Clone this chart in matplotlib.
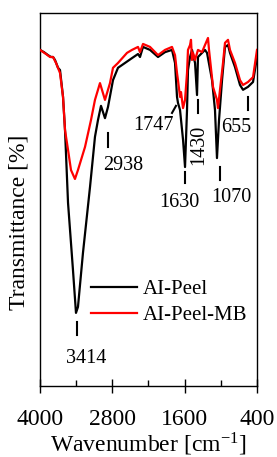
import matplotlib
matplotlib.use("Agg")
import matplotlib.pyplot as plt

plt.rcParams['font.family'] = ['Liberation Serif', 'DejaVu Serif']
plt.rcParams['mathtext.fontset'] = 'stix'

# AI-Peel (black)
wn_black = [4000, 3934, 3867, 3818, 3784, 3751, 3701, 3668, 3618, 3585, 3535, 3453, 3403,
            3370, 3287, 3170, 3088, 3038, 2988, 2922, 2872, 2789, 2706, 2590, 2474, 2374,
            2341, 2291, 2175, 2042, 1926, 1810, 1760, 1727, 1711, 1677, 1627, 1594, 1561,
            1545, 1511, 1478, 1428, 1395, 1379, 1312, 1263, 1229, 1146, 1097, 1064, 1030,
            980, 931, 881, 848, 765, 682, 632, 549, 466, 400]
t_black = [90.1, 89.5, 88.7, 88.2, 88.2, 87.4, 85.3, 84.7, 77.5, 68.6, 49.1, 31.1, 19.6,
           21.2, 35.7, 53.4, 66.8, 71.3, 75.1, 71.8, 74.8, 82.0, 85.3, 86.6, 87.9, 89.0,
           88.2, 90.9, 90.1, 88.2, 89.5, 90.1, 86.6, 77.5, 75.9, 74.0, 66.0, 58.7, 74.0,
           84.7, 88.2, 90.1, 86.6, 78.0, 88.2, 89.3, 90.1, 89.3, 82.0, 74.0, 61.1, 71.3,
           82.0, 90.9, 91.4, 89.3, 85.5, 80.7, 79.4, 80.2, 81.5, 88.2]

# AI-Peel-MB (red)
wn_red = [4000, 3900, 3834, 3784, 3734, 3668, 3618, 3585, 3535, 3486, 3420, 3370, 3253,
          3154, 3088, 3005, 2922, 2839, 2789, 2706, 2557, 2474, 2374, 2341, 2291, 2175,
          2042, 1926, 1810, 1760, 1727, 1711, 1677, 1661, 1627, 1594, 1561, 1545, 1511,
          1495, 1478, 1461, 1428, 1379, 1312, 1263, 1213, 1196, 1130, 1064, 1047, 1014,
          964, 931, 881, 848, 765, 682, 632, 549, 466, 400]
t_red = [90.1, 89.0, 88.2, 88.2, 86.6, 83.9, 77.5, 68.6, 63.3, 57.9, 55.5, 57.9, 64.1,
         71.3, 76.7, 81.2, 76.7, 81.2, 85.3, 86.6, 89.3, 90.1, 90.9, 89.5, 91.7, 90.9,
         88.7, 90.1, 90.9, 88.7, 83.9, 82.0, 77.5, 78.8, 74.5, 76.7, 83.9, 90.1, 91.4,
         92.8, 87.4, 89.3, 87.4, 90.1, 89.5, 91.4, 93.3, 90.1, 80.2, 76.7, 74.5, 79.4,
         86.6, 92.0, 92.8, 90.1, 86.6, 82.0, 80.7, 81.5, 82.8, 90.1]

series_names = ["AI-Peel", "AI-Peel-MB"]
series_colors = ["#000000", "#ff0000"]

# peak annotations
peak_labels = ["3414", "2938", "1747", "1630", "1430", "1070", "655"]
peak_text_x = [3237, 2623, 2125, 1694, 1362, 831, 748]
peak_text_y = [7.5, 59.2, 69.7, 49.3, 64.6, 50.4, 69.4]
peak_rot = [0, 0, 0, 0, 90, 0, 0]
tick_x0 = [3386, 2872, 1810, 1594, 1379, 1014, 549]
tick_x1 = [3386, 2872, 1744, 1594, 1379, 1014, 549]
tick_y0 = [13.7, 64.1, 73.2, 54.4, 73.2, 55.2, 74.0]
tick_y1 = [17.2, 67.8, 75.1, 57.4, 76.7, 58.7, 77.5]

xticks_major = [4000, 2800, 1600, 400]
xticks_minor = [3400, 2200, 1000]

fig = plt.figure(figsize=(2.77, 4.57), dpi=100)
ax = fig.add_axes([0.1444, 0.1554, 0.7834, 0.8162])

ax.plot(wn_black, t_black, color=series_colors[0], lw=1.6, label=series_names[0], zorder=2)
ax.plot(wn_red, t_red, color=series_colors[1], lw=1.6, label=series_names[1], zorder=3)

for lab, tx, ty, rot, x0, x1, y0, y1 in zip(peak_labels, peak_text_x, peak_text_y, peak_rot,
                                            tick_x0, tick_x1, tick_y0, tick_y1):
    ax.plot([x0, x1], [y0, y1], color='black', lw=1.5, zorder=4)
    ax.text(tx, ty, lab, ha='center', va='center', rotation=rot, fontsize=14.5)

ax.set_xlim(4000, 400)
ax.set_ylim(0, 100)
ax.set_xticks(xticks_major)
ax.set_xticks(xticks_minor, minor=True)
ax.set_yticks([])
ax.tick_params(axis='x', which='major', direction='inout', length=9.5, width=1,
               labelsize=17, pad=12)
ax.tick_params(axis='x', which='minor', direction='in', length=4.5, width=1)
for s in ax.spines.values():
    s.set_linewidth(1)

ax.set_xlabel(r'Wavenumber [cm$^{\mathregular{-1}}$]', fontsize=17, labelpad=0)
ax.set_ylabel('Transmittance [%]', fontsize=17)
ax.yaxis.set_label_coords(-0.05, 0.44)

leg = ax.legend(loc='lower right', bbox_to_anchor=(1.014, 0.13), frameon=False,
                fontsize=15, handlelength=2.2, handletextpad=0.3, labelspacing=0.3,
                borderaxespad=0.2)

fig.savefig('out.png', dpi=100)
